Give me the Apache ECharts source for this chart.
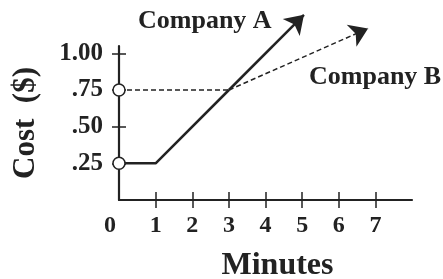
<!DOCTYPE html>
<html>
<head>
<meta charset="utf-8">
<script src="https://cdn.jsdelivr.net/npm/echarts@6/dist/echarts.min.js"></script>
<style>html,body{margin:0;padding:0;background:#fff;}#c{width:443px;height:279px;}</style>
</head>
<body>
<div id="c"></div>
<script>
// Data
var companyA = [[0, 0.25], [1, 0.25], [3, 0.75], [5.05, 1.2625]];
var companyB = [[0, 0.75], [3, 0.75], [6.8, 1.17]];
var startPoints = [[0, 0.25], [0, 0.75]];
var xTickValues = [1, 2, 3, 4, 5, 6, 7];
var xLabelValues = [0, 1, 2, 3, 4, 5, 6, 7];
var yTickValues = [0.25, 0.5, 0.75, 1];
var yTickLabels = ['.25', '.50', '.75', '1.00'];
var seriesNames = ['Company A', 'Company B'];
var xName = 'Minutes';
var yName = 'Cost  ($)';

var FONT = '"Liberation Serif", "Times New Roman", serif';
var INK = '#222';

// layout: visible axes grid and a taller (same scale) plotting grid so arrows can rise above the axis
var G = {left: 119, right: 31, top: 46, bottom: 79};
var yMaxAxis = 1.05, yMaxPlot = 1.35;
var plotH = 279 - G.top - G.bottom;
var pxPerUnit = plotH / yMaxAxis;
var top2 = 279 - G.bottom - pxPerUnit * yMaxPlot;

var chart = echarts.init(document.getElementById('c'), null, {renderer: 'canvas'});

function xAxisBase(extra) {
  return Object.assign({
    type: 'value', min: 0, max: 8, position: 'bottom', gridIndex: 0,
    splitLine: {show: false}
  }, extra);
}
function yAxisBase(extra) {
  return Object.assign({
    type: 'value', min: 0, max: yMaxAxis, position: 'left', gridIndex: 0,
    splitLine: {show: false}
  }, extra);
}
var hidden = {axisLine: {show: false}, axisTick: {show: false}, axisLabel: {show: false}, splitLine: {show: false}};

chart.setOption({
  animation: false,
  grid: [
    {left: G.left, right: G.right, top: G.top, bottom: G.bottom, containLabel: false, outerBoundsMode: 'none'},
    {left: G.left, right: G.right, top: top2, bottom: G.bottom, containLabel: false, outerBoundsMode: 'none'}
  ],
  xAxis: [
    xAxisBase({
      axisLine: {show: true, onZero: false, lineStyle: {color: INK, width: 2.2}},
      axisTick: {show: true, customValues: xTickValues, inside: false, length: 8, lineStyle: {color: INK, width: 1.5}},
      axisLabel: {
        customValues: xLabelValues, margin: 14,
        fontSize: 24, fontWeight: 'bold', fontFamily: FONT, color: INK,
        formatter: function (v) { return v === 0 ? '{z|0}' : String(v); },
        rich: {z: {fontSize: 24, fontWeight: 'bold', fontFamily: FONT, color: INK, padding: [0, 18, 0, 0]}}
      },
      name: xName, nameLocation: 'middle', nameGap: 50,
      nameTextStyle: {fontSize: 32, fontWeight: 'bold', fontFamily: FONT, color: INK, padding: [0, 0, 0, 24]}
    }),
    xAxisBase({
      axisLine: {show: false},
      axisTick: {show: true, customValues: xTickValues, inside: true, length: 8, lineStyle: {color: INK, width: 1.5}},
      axisLabel: {show: false}
    }),
    Object.assign({type: 'value', min: 0, max: 8, gridIndex: 1}, hidden)
  ],
  yAxis: [
    yAxisBase({
      axisLine: {show: true, onZero: false, lineStyle: {color: INK, width: 2.2}},
      axisTick: {show: true, customValues: yTickValues, inside: false, length: 7, lineStyle: {color: INK, width: 1.5}},
      axisLabel: {
        customValues: yTickValues, margin: 16,
        fontSize: 25, fontWeight: 'bold', fontFamily: FONT, color: INK,
        formatter: function (v) {
          for (var i = 0; i < yTickValues.length; i++) {
            if (Math.abs(yTickValues[i] - v) < 1e-9) return yTickLabels[i];
          }
          return '';
        }
      },
      name: yName, nameLocation: 'middle', nameGap: 78,
      nameTextStyle: {fontSize: 31, fontWeight: 'bold', fontFamily: FONT, color: INK}
    }),
    yAxisBase({
      axisLine: {show: false},
      axisTick: {show: true, customValues: yTickValues, inside: true, length: 7, lineStyle: {color: INK, width: 1.5}},
      axisLabel: {show: false}
    }),
    Object.assign({type: 'value', min: 0, max: yMaxPlot, gridIndex: 1}, hidden)
  ],
  series: [
    {
      name: seriesNames[0], type: 'line', xAxisIndex: 2, yAxisIndex: 2,
      data: companyA.slice(0, -1), symbol: 'none', clip: false,
      lineStyle: {color: INK, width: 2.5}, z: 3,
      markLine: {
        silent: true, symbol: ['none', 'arrow'], symbolSize: 18,
        label: {show: false}, emphasis: {disabled: true},
        lineStyle: {color: INK, width: 2.5, type: 'solid'},
        data: [[{coord: companyA[companyA.length - 2]}, {coord: companyA[companyA.length - 1]}]]
      }
    },
    {
      name: seriesNames[1], type: 'line', xAxisIndex: 2, yAxisIndex: 2,
      data: companyB.slice(0, -1), symbol: 'none', clip: false,
      lineStyle: {color: INK, width: 1.5, type: [5, 3]}, z: 2,
      markLine: {
        silent: true, symbol: ['none', 'arrow'], symbolSize: 18,
        label: {show: false}, emphasis: {disabled: true},
        lineStyle: {color: INK, width: 1.5, type: [5, 3]},
        data: [[{coord: companyB[companyB.length - 2]}, {coord: companyB[companyB.length - 1]}]]
      }
    },
    {
      type: 'scatter', xAxisIndex: 2, yAxisIndex: 2, data: startPoints, clip: false,
      symbol: 'circle', symbolSize: 12, z: 10,
      itemStyle: {color: '#fff', borderColor: INK, borderWidth: 1.5, opacity: 1}
    }
  ],
  graphic: [
    {type: 'text', left: 138, top: 8, z: 10,
     style: {text: seriesNames[0], fontSize: 26, fontWeight: 'bold', fontFamily: FONT, fill: INK}},
    {type: 'text', left: 309, top: 64, z: 10,
     style: {text: seriesNames[1], fontSize: 26, fontWeight: 'bold', fontFamily: FONT, fill: INK}}
  ]
});
</script>
</body>
</html>
